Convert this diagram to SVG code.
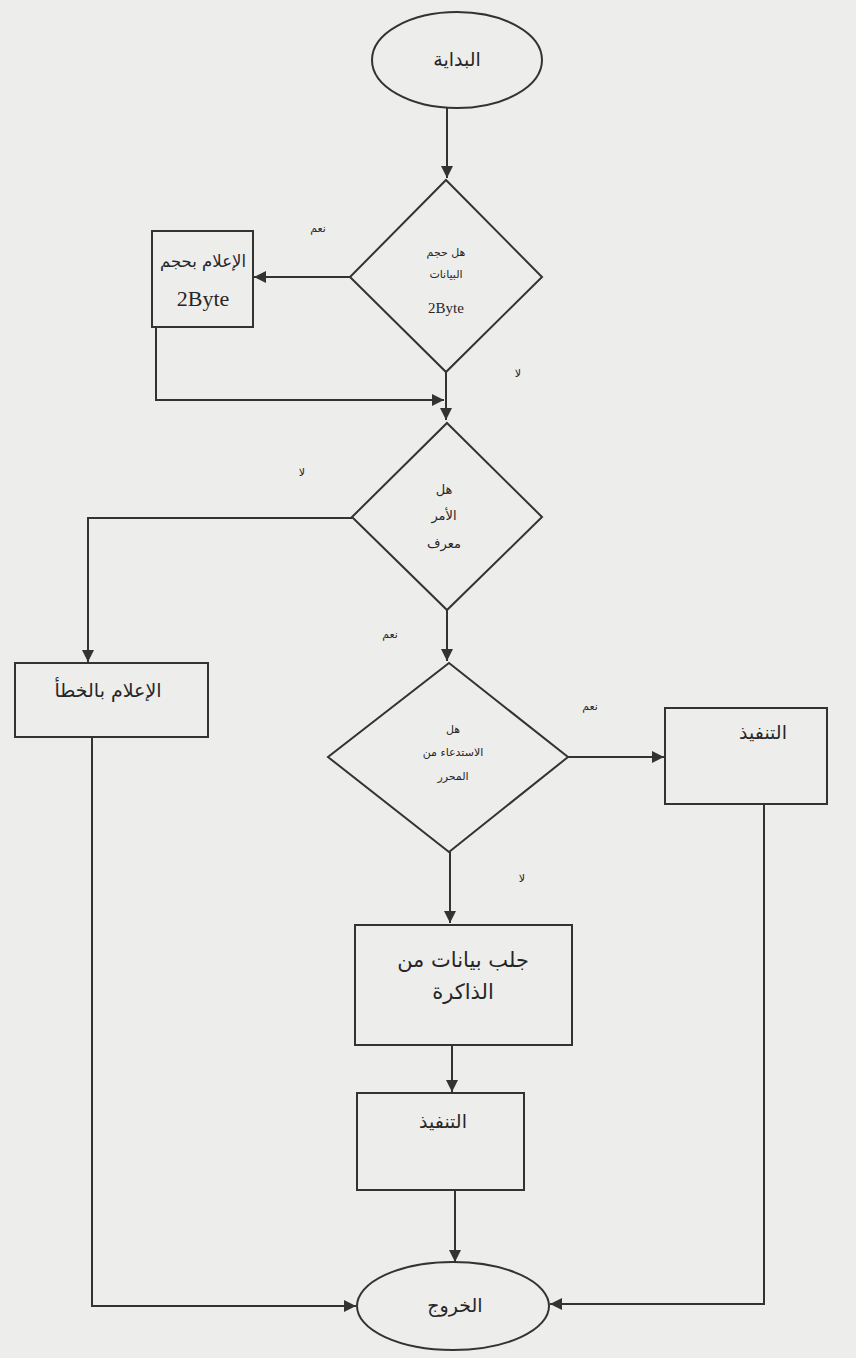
<svg xmlns="http://www.w3.org/2000/svg" width="856" height="1358" viewBox="0 0 856 1358">
  <style>
    .shape { fill: none; stroke: #333333; stroke-width: 2; }
    .edge { fill: none; stroke: #333333; stroke-width: 2; }
    .ar { font-family: "DejaVu Sans", sans-serif; fill: #262626; text-anchor: middle; }
    .lat { font-family: "Liberation Serif", serif; fill: #262626; text-anchor: middle; }
    .big { font-size: 19px; }
    .mid { font-size: 13px; }
    .small { font-size: 11px; }
    .lbl { font-size: 11px; }
  </style>
  <defs>
    <marker id="arrow" viewBox="0 0 10 10" refX="10" refY="5" markerWidth="6" markerHeight="6" orient="auto" markerUnits="strokeWidth">
      <path d="M0,0 L10,5 L0,10 z" fill="#333333"/>
    </marker>
  </defs>
  <rect width="856" height="1358" fill="#ededeb"/>

  <!-- flow lines and branch labels -->
  <g id="connectors">
    <path class="edge" d="M447,108 V178" marker-end="url(#arrow)"/>
    <path class="edge" d="M350,277 H254" marker-end="url(#arrow)"/>
    <path class="edge" d="M156,327 V400 H444" marker-end="url(#arrow)"/>
    <path class="edge" d="M446,372 V420" marker-end="url(#arrow)"/>
    <path class="edge" d="M352,518 H88 V662" marker-end="url(#arrow)"/>
    <path class="edge" d="M447,610 V661" marker-end="url(#arrow)"/>
    <path class="edge" d="M568,757 H664" marker-end="url(#arrow)"/>
    <path class="edge" d="M450,852 V923" marker-end="url(#arrow)"/>
    <path class="edge" d="M452,1045 V1092" marker-end="url(#arrow)"/>
    <path class="edge" d="M455,1190 V1262" marker-end="url(#arrow)"/>
    <path class="edge" d="M92,737 V1306 H356" marker-end="url(#arrow)"/>
    <path class="edge" d="M764,804 V1304 H550" marker-end="url(#arrow)"/>
    <text class="ar lbl" x="318" y="232">نعم</text>
    <text class="ar lbl" x="518" y="377">لا</text>
    <text class="ar lbl" x="302" y="476">لا</text>
    <text class="ar lbl" x="390" y="638">نعم</text>
    <text class="ar lbl" x="590" y="710">نعم</text>
    <text class="ar lbl" x="522" y="882">لا</text>
  </g>

  <g id="start">
    <ellipse class="shape" cx="457" cy="60" rx="85" ry="48"/>
    <text class="ar big" x="457" y="66">البداية</text>
  </g>

  <g id="decision-size">
    <polygon class="shape" points="446,180 542,277 446,372 350,277"/>
    <text class="ar small" x="446" y="256">هل حجم</text>
    <text class="ar small" x="446" y="278">البيانات</text>
    <text class="lat" font-size="15" x="446" y="313">2Byte</text>
  </g>

  <g id="notify-size">
    <rect class="shape" x="152" y="231" width="101" height="96"/>
    <text class="ar" font-size="16.5" x="203" y="267">الإعلام بحجم</text>
    <text class="lat" font-size="22" x="203" y="306">2Byte</text>
  </g>

  <g id="decision-known">
    <polygon class="shape" points="447,423 542,517 447,610 352,517"/>
    <text class="ar mid" x="444" y="494">هل</text>
    <text class="ar mid" x="444" y="520">الأمر</text>
    <text class="ar mid" x="444" y="548">معرف</text>
  </g>

  <g id="notify-error">
    <rect class="shape" x="15" y="663" width="193" height="74"/>
    <text class="ar big" x="108" y="697">الإعلام بالخطأ</text>
  </g>

  <g id="decision-editor">
    <polygon class="shape" points="449,663 568,757 449,852 328,757"/>
    <text class="ar small" x="453" y="733">هل</text>
    <text class="ar small" x="453" y="756">الاستدعاء من</text>
    <text class="ar small" x="453" y="780">المحرر</text>
  </g>

  <g id="execute-direct">
    <rect class="shape" x="665" y="708" width="162" height="96"/>
    <text class="ar big" x="763" y="739">التنفيذ</text>
  </g>

  <g id="fetch-memory">
    <rect class="shape" x="355" y="925" width="217" height="120"/>
    <text class="ar" font-size="21" x="463" y="967">جلب بيانات من</text>
    <text class="ar" font-size="21" x="463" y="999">الذاكرة</text>
  </g>

  <g id="execute">
    <rect class="shape" x="357" y="1093" width="167" height="97"/>
    <text class="ar big" x="443" y="1128">التنفيذ</text>
  </g>

  <g id="exit">
    <ellipse class="shape" cx="453" cy="1306" rx="96" ry="44"/>
    <text class="ar big" x="455" y="1312">الخروج</text>
  </g>
</svg>
